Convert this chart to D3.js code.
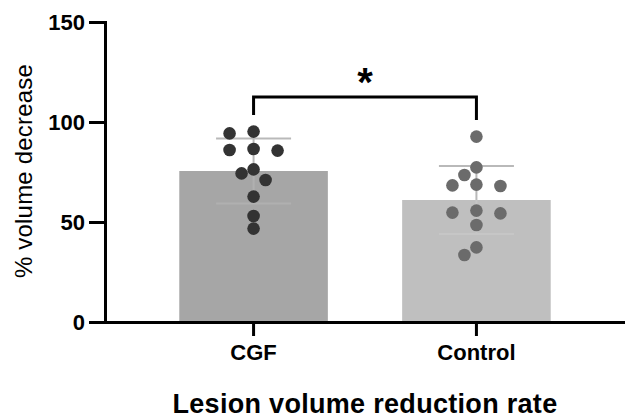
<!DOCTYPE html>
<html>
<head>
<meta charset="utf-8">
<script src="https://cdn.jsdelivr.net/npm/d3@7"></script>
<style>
  body { margin: 0; background: #fff; }
  svg { display: block; font-family: "Liberation Sans", Arial, Helvetica, sans-serif; }
</style>
</head>
<body>
<svg width="625" height="418"></svg>
<script>
var svg = d3.select('svg')

// data
var groups = ['CGF', 'Control']
var means = [75.5, 61]
var sds = [16.2, 17]
var cgfPoints = [95.2, 94.3, 86.5, 86, 85.7, 76.3, 74.3, 71, 62.7, 53, 46.7]
var controlPoints = [92.7, 77.3, 73.5, 68.7, 68.3, 68, 55.7, 54.7, 54.3, 48.5, 37.3, 33.5]
var yTicks = [0, 50, 100, 150]

var barColors = ['#a6a6a6', '#bfbfbf']
var dotColors = ['#333333', '#6b6b6b']
var points = [cgfPoints, controlPoints]

var x = d3.scaleBand().domain(groups).range([105, 625]).paddingInner(1/3).paddingOuter(1/3)
var y = d3.scaleLinear().domain([0, 150]).range([322, 22])

//Bars
svg.selectAll('rect.bar')
	.data(groups)
	.enter()
	.append('rect')
	.attr('class', 'bar')
	.attr('x', function(d) { return x(d) })
	.attr('width', x.bandwidth())
	.attr('y', function(d, i) { return y(means[i]) })
	.attr('height', function(d, i) { return y(0) - y(means[i]) })
	.attr('fill', function(d, i) { return barColors[i] })

//Error bars (mean + / - SD)
var capHalf = 37.5
groups.forEach(function(g, i) {
	var cx = x(g) + x.bandwidth() / 2
	var hi = y(means[i] + sds[i]), lo = y(means[i] - sds[i]), m = y(means[i])
	var eb = svg.append('g').attr('fill', 'none').attr('stroke-width', 2)
	eb.append('path')
		.attr('d', 'M' + (cx - capHalf) + ',' + hi + 'H' + (cx + capHalf) + 'M' + cx + ',' + hi + 'V' + m)
		.attr('stroke', '#b9b9b9')
	eb.append('path')
		.attr('d', 'M' + (cx - capHalf) + ',' + lo + 'H' + (cx + capHalf) + 'M' + cx + ',' + lo + 'V' + m)
		.attr('stroke', i == 0 ? '#b0b0b0' : '#c6c6c6')
})

//Dots, spread with a simple greedy swarm
var r = 6.3, stepX = 12, minDist = 12.5
groups.forEach(function(g, i) {
	var cx = x(g) + x.bandwidth() / 2
	var placed = []
	points[i].slice().sort(function(a, b) { return b - a }).forEach(function(v) {
		var py = y(v)
		for (var k = 0; k < 20; k++) {
			var off = (k % 2 == 1 ? -1 : 1) * Math.ceil(k / 2) * stepX
			var ok = placed.every(function(p) {
				return Math.hypot(p.x - (cx + off), p.y - py) >= minDist
			})
			if (ok) { placed.push({x: cx + off, y: py}); break }
		}
	})
	svg.append('g').selectAll('circle')
		.data(placed)
		.enter()
		.append('circle')
		.attr('cx', function(d) { return d.x })
		.attr('cy', function(d) { return d.y })
		.attr('r', r)
		.attr('fill', dotColors[i])
})

//Axes
var yAxis = svg.append('g')
	.attr('transform', 'translate(105,0)')
	.call(d3.axisLeft(y).tickValues(yTicks).tickSize(16).tickSizeOuter(0).tickPadding(4))
var xAxis = svg.append('g')
	.attr('transform', 'translate(0,' + y(0) + ')')
	.call(d3.axisBottom(x).tickSize(14).tickSizeOuter(0).tickPadding(8))

svg.selectAll('.domain, .tick line').attr('stroke', '#000').attr('stroke-width', 3)
svg.selectAll('.domain').attr('stroke-linecap', 'square')
yAxis.selectAll('text').attr('font-size', 22).attr('font-weight', 'bold').attr('fill', '#000').attr('font-family', null)
xAxis.selectAll('text').attr('font-size', 22).attr('font-weight', 'bold').attr('fill', '#000').attr('font-family', null)

//Axis titles
svg.append('text')
	.attr('transform', 'translate(32,171) rotate(-90)')
	.attr('text-anchor', 'middle')
	.attr('font-size', 24)
	.attr('letter-spacing', 0.2)
	.text('% volume decrease')
svg.append('text')
	.attr('x', 365)
	.attr('y', 413)
	.attr('text-anchor', 'middle')
	.attr('font-size', 27)
	.attr('font-weight', 'bold')
	.attr('letter-spacing', 0.3)
	.text('Lesion volume reduction rate')

//Significance bracket
var x1 = x('CGF') + x.bandwidth() / 2, x2 = x('Control') + x.bandwidth() / 2
svg.append('path')
	.attr('d', 'M' + x1 + ',115V97H' + x2 + 'V120')
	.attr('fill', 'none')
	.attr('stroke', '#000')
	.attr('stroke-width', 3)
svg.append('text')
	.attr('x', (x1 + x2) / 2)
	.attr('y', 96)
	.attr('text-anchor', 'middle')
	.attr('font-size', 40)
	.attr('font-weight', 'bold')
	.text('*')
</script>
</body>
</html>
